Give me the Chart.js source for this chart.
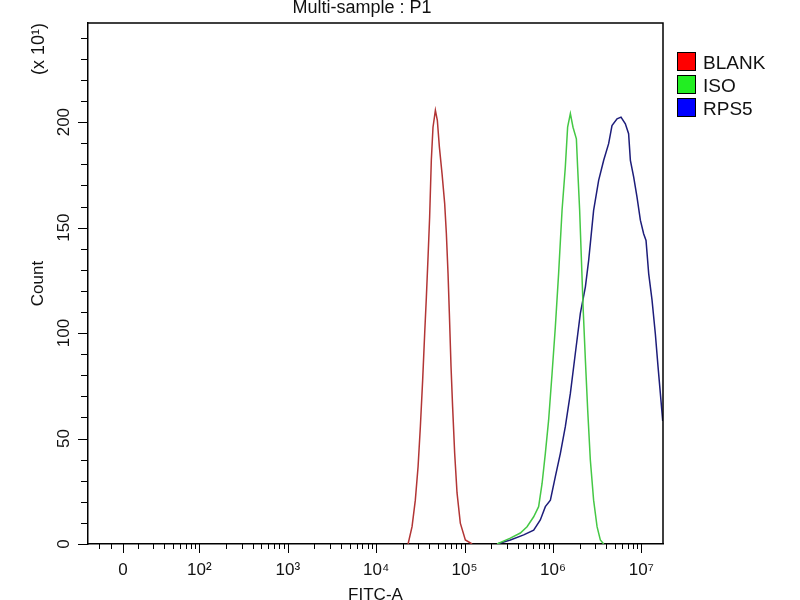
<!DOCTYPE html>
<html><head><meta charset="utf-8">
<script src="https://cdn.jsdelivr.net/npm/chart.js@4.4.1/dist/chart.umd.min.js"></script>
<style>html,body{margin:0;padding:0;background:#fff}#wrap{width:800px;height:600px;position:relative}</style>
</head><body><div id="wrap"><canvas id="c" width="800" height="600"></canvas></div>
<script>
const FONT = '"Liberation Sans", Arial, sans-serif';
const chartTitle = 'Multi-sample : P1';
const yUnitLabel = '(x 10¹)';
const xAxisTitle = 'FITC-A';
const yAxisTitle = 'Count';

const seriesNames = ['BLANK', 'ISO', 'RPS5'];
const lineColors = ['#b23535', '#45c845', '#1d1d7a'];
const legendColors = ['#ff0000', '#22ee22', '#0000ff'];

// x values are in display-decade units (log10 of FITC-A), y values are counts (x10)
const blankX = [4.361,4.406,4.443,4.474,4.500,4.526,4.549,4.568,4.587,4.605,4.624,4.643,4.670,4.692,4.715,4.745,4.775,4.794,4.813,4.828,4.847,4.865,4.888,4.915,4.952,5.009,5.085];
const blankY = [0,8.2,20.8,36.6,55.6,77.7,99.9,117.1,136.1,155.0,181.9,197.6,205.6,200.9,188.3,175.7,161.5,147.3,128.3,109.4,84.0,65.0,43.1,24.2,9.9,1.9,0];

const isoX = [5.368,5.518,5.631,5.707,5.782,5.838,5.877,5.914,5.951,5.990,6.027,6.064,6.103,6.140,6.166,6.197,6.227,6.265,6.279,6.302,6.321,6.341,6.367,6.393,6.423,6.460,6.499,6.536,6.574];
const isoY = [0,2.8,5.2,8.2,12.9,17.7,28.7,43.0,58.7,80.8,102.9,128.2,158.2,178.7,197.6,204.0,197.6,192.1,178.7,158.2,136.1,112.4,87.1,63.5,39.8,20.8,8.2,1.9,0];

const rpsX = [5.368,5.518,5.669,5.782,5.857,5.914,5.971,6.027,6.084,6.140,6.197,6.253,6.310,6.367,6.404,6.460,6.517,6.574,6.630,6.668,6.725,6.770,6.819,6.856,6.876,6.913,6.951,6.989,7.026,7.053,7.083,7.121,7.158,7.189,7.215,7.241,7.245];
const rpsY = [0,1.9,4.3,6.6,11.4,17.7,20.8,31.9,43.0,55.6,71.4,90.3,109.3,121.9,134.5,158.2,172.4,181.9,189.8,198.4,201.6,202.4,199.2,194.5,181.9,174.0,164.5,153.5,147.1,143.9,128.2,115.6,99.8,84.0,71.4,58.7,58.7];

const xMin = 0.74, xMax = 7.245;
const xMajorTicks = [1.135, 2, 3, 4, 5, 6, 7];
const xMajorLabels = ['0', '10²', '10³', '10⁴', '10⁵', '10⁶', '10⁷'];
const xExtraMinorTicks = [0.86, 1.0];
const yMin = 0, yMax = 247;
const yMajorTicks = [0, 50, 100, 150, 200];
const yMinorTicks = [10,20,30,40,60,70,80,90,110,120,130,140,160,170,180,190,210,220,230,240];

function pts(xs, ys) { return xs.map((x, i) => ({x: x, y: ys[i]})); }

const xTickList = [];
xExtraMinorTicks.forEach(v => xTickList.push({value: v, major: false}));
xMajorTicks.forEach(v => xTickList.push({value: v, major: true}));
for (let d = 1; d <= 6; d++) for (let k = 2; k <= 9; k++) xTickList.push({value: d + Math.log10(k), major: false});
xTickList.sort((a, b) => a.value - b.value);
const yTickList = yMajorTicks.map(v => ({value: v, major: true})).concat(yMinorTicks.map(v => ({value: v, major: false}))).sort((a, b) => a.value - b.value);

const series = [pts(blankX, blankY), pts(isoX, isoY), pts(rpsX, rpsY)];

const deco = {
  id: 'deco',
  afterDraw(chart) {
    const ctx = chart.ctx, a = chart.chartArea;
    const xs = chart.scales.x, ys = chart.scales.y;
    ctx.save();
    ctx.strokeStyle = '#000';
    ctx.lineWidth = 1;
    ctx.beginPath();
    xs.ticks.forEach(t => {
      const px = Math.round(xs.getPixelForValue(t.value)) + 0.5;
      ctx.moveTo(px, a.bottom);
      ctx.lineTo(px, a.bottom + (t.major ? 9 : 5));
    });
    ys.ticks.forEach(t => {
      const py = Math.round(ys.getPixelForValue(t.value)) + 0.5;
      ctx.moveTo(a.left, py);
      ctx.lineTo(a.left - (t.major ? 10 : 7), py);
    });
    ctx.stroke();
    // top & right frame
    ctx.lineWidth = 1.5;
    ctx.beginPath();
    ctx.moveTo(a.left, a.top); ctx.lineTo(a.right, a.top); ctx.lineTo(a.right, a.bottom);
    ctx.stroke();
    // title
    ctx.fillStyle = '#111';
    ctx.font = '18px ' + FONT;
    ctx.textAlign = 'center';
    ctx.textBaseline = 'middle';
    ctx.fillText(chartTitle, 362, 8.5);
    // unit label
    ctx.save();
    ctx.translate(39, 49);
    ctx.rotate(-Math.PI / 2);
    ctx.font = '18px ' + FONT;
    ctx.fillText(yUnitLabel, 0, 0);
    ctx.restore();
    // legend
    ctx.font = '19px ' + FONT;
    ctx.textAlign = 'left';
    seriesNames.forEach((name, i) => {
      const y0 = 52 + i * 23;
      ctx.fillStyle = legendColors[i];
      ctx.fillRect(677.5, y0 + 0.5, 18, 18);
      ctx.strokeStyle = '#000';
      ctx.lineWidth = 1;
      ctx.strokeRect(677.5, y0 + 0.5, 18, 18);
      ctx.fillStyle = '#111';
      ctx.fillText(name, 703, y0 + 12);
    });
    ctx.restore();
  }
};

new Chart(document.getElementById('c'), {
  type: 'line',
  data: {
    datasets: series.map((d, i) => ({
      label: seriesNames[i],
      data: d,
      borderColor: lineColors[i],
      backgroundColor: lineColors[i],
      borderWidth: 1.5,
      pointRadius: 0,
      tension: 0,
      fill: false
    }))
  },
  options: {
    responsive: false,
    animation: false,
    devicePixelRatio: 1,
    layout: {padding: {left: 0, top: 23, right: 137, bottom: 0}},
    plugins: {legend: {display: false}, tooltip: {enabled: false}, title: {display: false}},
    scales: {
      x: {
        type: 'linear', min: xMin, max: xMax,
        afterFit(s) { s.height = 56; },
        afterBuildTicks(s) { s.ticks = xTickList.map(t => ({value: t.value, major: t.major})); },
        grid: {display: false, drawTicks: true, tickLength: 9},
        border: {display: true, color: '#000', width: 1.5},
        ticks: {
          autoSkip: false, maxRotation: 0, minRotation: 0, padding: 7,
          color: '#111', font: {family: FONT, size: 17},
          callback(v) { const i = xMajorTicks.findIndex(m => Math.abs(m - v) < 1e-6); return i >= 0 ? xMajorLabels[i] : ''; }
        },
        title: {display: true, text: xAxisTitle, color: '#111', font: {family: FONT, size: 17, lineHeight: 0.6}, padding: {top: 0, bottom: 0}}
      },
      y: {
        type: 'linear', min: yMin, max: yMax,
        afterFit(s) { s.width = 88; },
        afterBuildTicks(s) { s.ticks = yTickList.map(t => ({value: t.value, major: t.major})); },
        grid: {display: false, drawTicks: true, tickLength: 10},
        border: {display: true, color: '#000', width: 1.5},
        ticks: {
          autoSkip: false, minRotation: 90, maxRotation: 90, crossAlign: 'center', padding: 0,
          color: '#111', font: {family: FONT, size: 17},
          callback(v) { return yMajorTicks.indexOf(v) >= 0 ? String(v) : ''; }
        },
        title: {display: true, text: yAxisTitle, color: '#111', font: {family: FONT, size: 17, lineHeight: 1.2}, padding: {top: 28, bottom: 0}}
      }
    }
  },
  plugins: [deco]
});
</script>
</body></html>
